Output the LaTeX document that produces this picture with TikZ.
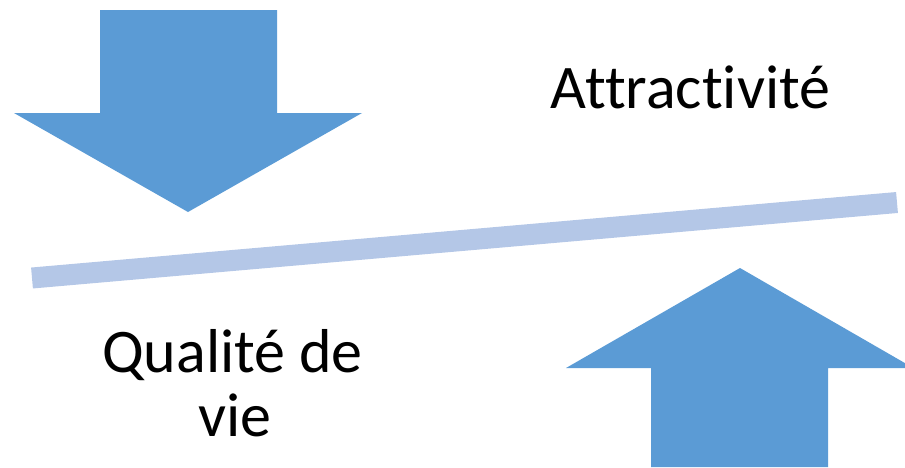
\documentclass[tikz,border=0pt]{standalone}
\usepackage{fontspec}
\setmainfont{Carlito}[Ligatures={NoCommon,NoRare}]
\definecolor{arrowblue}{HTML}{5B9BD5}
\definecolor{beamblue}{HTML}{B4C7E7}
\begin{document}
\begin{tikzpicture}[x=1pt,y=-1pt,
  bigarrow/.style={fill=arrowblue,draw=none},
  beam/.style={draw=beamblue,line width=21pt,line cap=butt},
  label/.style={font=\fontsize{62}{65}\selectfont,anchor=base,inner sep=0pt}]
\useasboundingbox (0,0) rectangle (905,467);
% down arrow
\fill[bigarrow] (100,10) -- (277,10) -- (277,113) -- (362,113) -- (188,212) -- (14,113) -- (100,113) -- cycle;
% up arrow
\fill[bigarrow] (651,467) -- (651,368) -- (566,368) -- (740,268) -- (910,366) -- (910,368) -- (828,368) -- (828,467) -- cycle;
% beam
\coordinate (bl) at (32,278);
\coordinate (br) at (897,202.5);
\draw[beam] (bl) -- (br);
% texts
\node[label] (attr) at (690.5,108) {Attractivité};
\node[label] (qual) at (232.5,372) {Qualité de};
\node[label] (vie) at (235,436) {vie};
\end{tikzpicture}
\end{document}
